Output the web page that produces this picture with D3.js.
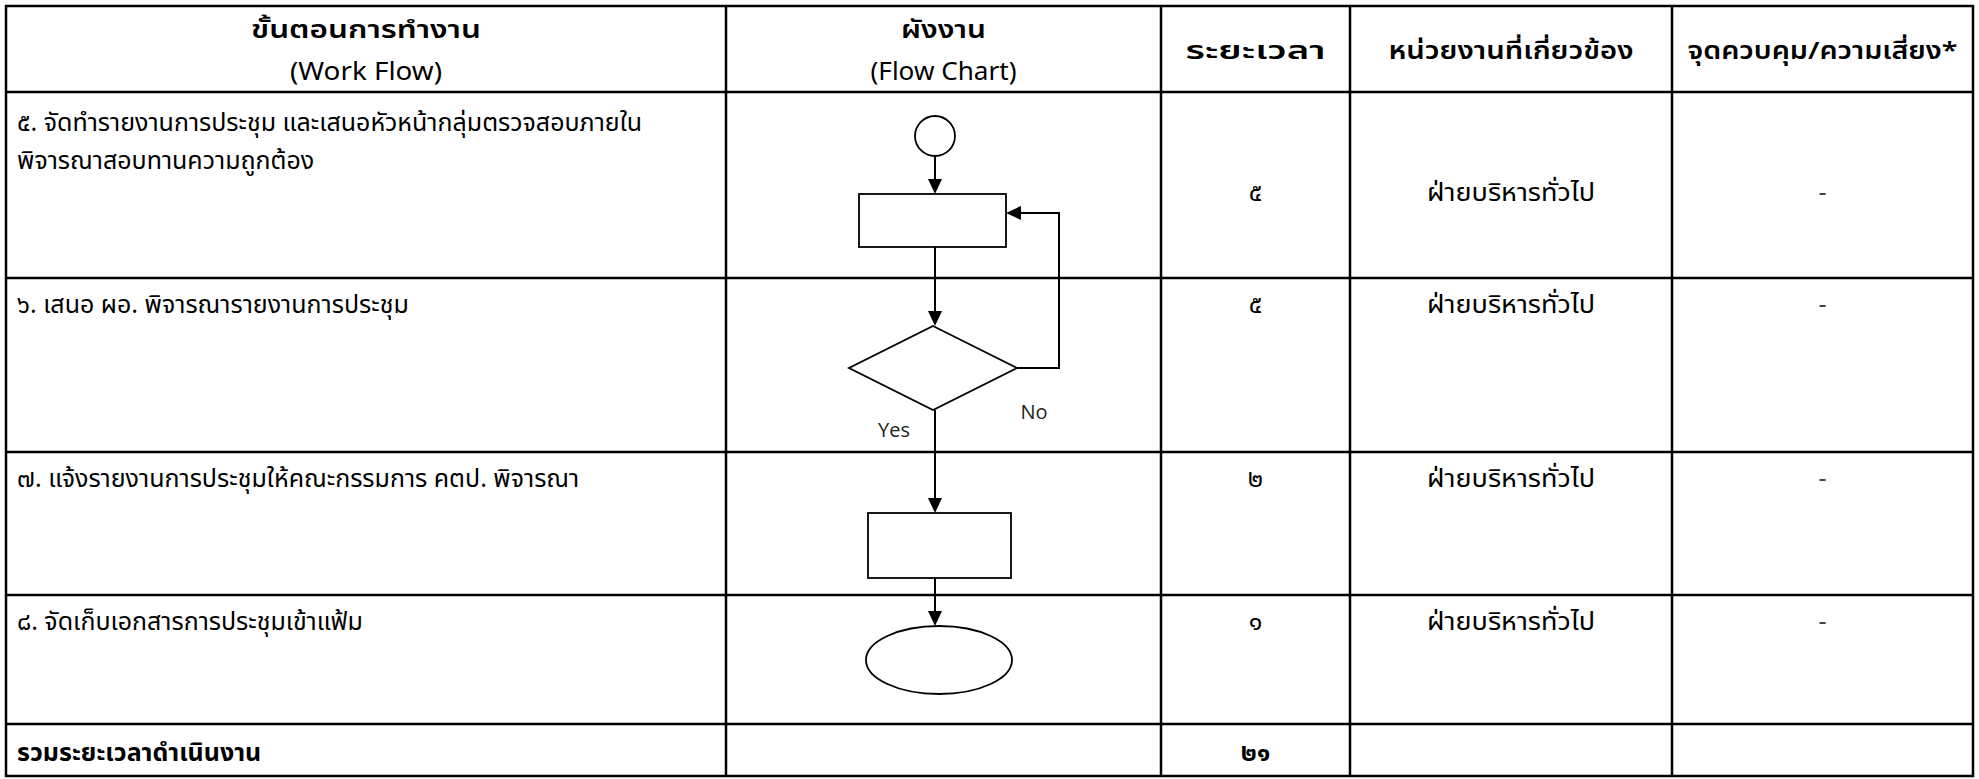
<!DOCTYPE html>
<html><head><meta charset="utf-8">
<script src="https://cdn.jsdelivr.net/npm/d3@7"></script>
<style>body{margin:0;background:#fff}svg{display:block}</style>
</head><body>
<svg id="chart" width="1979" height="779"></svg>
<script>
// ---------------- DATA ----------------
const headerLabels = [
  ["ขั้นตอนการทำงาน", "(Work Flow)"],
  ["ผังงาน", "(Flow Chart)"],
  ["ระยะเวลา"],
  ["หน่วยงานที่เกี่ยวข้อง"],
  ["จุดควบคุม/ความเสี่ยง*"]
];
const stepLabels = [
  ["๕. จัดทำรายงานการประชุม และเสนอหัวหน้ากลุ่มตรวจสอบภายใน", "พิจารณาสอบทานความถูกต้อง"],
  ["๖. เสนอ ผอ. พิจารณารายงานการประชุม"],
  ["๗. แจ้งรายงานการประชุมให้คณะกรรมการ คตป. พิจารณา"],
  ["๘. จัดเก็บเอกสารการประชุมเข้าแฟ้ม"]
];
const durations = ["๕", "๕", "๒", "๑"];
const departments = ["ฝ่ายบริหารทั่วไป", "ฝ่ายบริหารทั่วไป", "ฝ่ายบริหารทั่วไป", "ฝ่ายบริหารทั่วไป"];
const controls = ["-", "-", "-", "-"];
const totalLabel = "รวมระยะเวลาดำเนินงาน";
const totalDuration = "๒๑";
const flowNodes = ["start", "process", "decision", "process", "end"];
const branchLabels = ["Yes", "No"];

// ---------------- LAYOUT ----------------
const W = 1979, H = 779;
const colWidths = [720, 435, 189, 322, 301];
const rowHeights = [86, 186, 174, 143, 129, 52];
const x0 = 6, y0 = 6;
const colEdges = [x0]; colWidths.forEach(w => colEdges.push(colEdges[colEdges.length-1] + w));
const rowEdges = [y0]; rowHeights.forEach(h => rowEdges.push(rowEdges[rowEdges.length-1] + h));
const xCol = d3.scaleOrdinal().domain(d3.range(colEdges.length)).range(colEdges);
const yRow = d3.scaleOrdinal().domain(d3.range(rowEdges.length)).range(rowEdges);
const colCenter = i => (xCol(i) + xCol(i+1)) / 2;
const headerFit = [230, 85, 140, 245, 270];
const subFit = [152, 146];

const thaiFont = "'Noto Sans Thai','Noto Sans Thai UI','Sarabun','TH Sarabun New','Loma','Garuda','Noto Sans',sans-serif";
const svg = d3.select("#chart");
svg.append("rect").attr("width", W).attr("height", H).attr("fill", "#fff");

// grid
const grid = svg.append("g").attr("stroke", "#000").attr("stroke-width", 2.5);
grid.selectAll("line.v").data(colEdges).join("line").attr("class","v")
  .attr("x1", d => d).attr("x2", d => d).attr("y1", yRow(0)-1).attr("y2", yRow(rowEdges.length-1)+1);
grid.selectAll("line.h").data(rowEdges).join("line").attr("class","h")
  .attr("x1", xCol(0)-1).attr("x2", xCol(colEdges.length-1)+1).attr("y1", d => d).attr("y2", d => d);

// header
const hdr = svg.append("g").attr("font-family", thaiFont).attr("font-weight", 600)
  .attr("font-size", 24).attr("text-anchor", "middle").attr("fill", "#000");
headerLabels.forEach((lines, i) => {
  const cx = colCenter(i);
  if (lines.length === 2) {
    hdr.append("text").attr("x", cx).attr("y", yRow(0) + 32)
      .attr("textLength", headerFit[i]).attr("lengthAdjust", "spacingAndGlyphs").text(lines[0]);
    hdr.append("text").attr("x", cx).attr("y", yRow(0) + 74).attr("font-weight", "normal")
      .attr("font-size", 25).attr("textLength", subFit[i]).attr("lengthAdjust", "spacingAndGlyphs").text(lines[1]);
  } else {
    hdr.append("text").attr("x", cx).attr("y", yRow(0) + 53)
      .attr("textLength", headerFit[i]).attr("lengthAdjust", "spacingAndGlyphs").text(lines[0]);
  }
});

// body text
const body = svg.append("g").attr("font-family", thaiFont).attr("font-size", 25).attr("fill", "#000");
stepLabels.forEach((lines, r) => {
  const top = yRow(r+1);
  lines.forEach((t, k) => {
    body.append("text").attr("x", xCol(0) + 11).attr("y", top + (r === 0 ? 39 : 35) + k * 38).text(t);
  });
  const vy = r === 0 ? (yRow(1) + yRow(2)) / 2 + 16 : top + 35;
  body.append("text").attr("x", colCenter(2)).attr("y", vy).attr("text-anchor", "middle").text(durations[r]);
  body.append("text").attr("x", colCenter(3)).attr("y", vy).attr("text-anchor", "middle")
    .attr("textLength", 168).attr("lengthAdjust", "spacingAndGlyphs").text(departments[r]);
  body.append("text").attr("x", colCenter(4)).attr("y", vy).attr("text-anchor", "middle").attr("fill", "#444").text(controls[r]);
});
body.append("text").attr("x", xCol(0) + 11).attr("y", yRow(5) + 37).attr("font-weight", "bold").text(totalLabel);
body.append("text").attr("x", colCenter(2)).attr("y", yRow(5) + 37).attr("font-weight", "bold").attr("text-anchor", "middle").text(totalDuration);

// ---------------- FLOWCHART ----------------
const fx = 935;
const node = {
  start:    {cx: fx, cy: 136, r: 20},
  process1: {x: 859, y: 194, w: 147, h: 53},
  decision: {cx: 933, cy: 368, hw: 84, hh: 42},
  process2: {x: 868, y: 513, w: 143, h: 65},
  end:      {cx: 939, cy: 660, rx: 73, ry: 34}
};
const fc = svg.append("g");
const conn = fc.append("g").attr("stroke", "#000").attr("stroke-width", 2).attr("fill", "none");
const heads = fc.append("g").attr("fill", "#000");
function arrowDown(x, y1, y2) {
  conn.append("line").attr("x1", x).attr("x2", x).attr("y1", y1).attr("y2", y2 - 13);
  heads.append("path").attr("d", d3.line()([[x-7, y2-15], [x+7, y2-15], [x, y2]]));
}
function arrowLeft(xTip, y) {
  heads.append("path").attr("d", d3.line()([[xTip+15, y-7], [xTip+15, y+7], [xTip, y]]));
}
arrowDown(fx, node.start.cy + node.start.r, node.process1.y);
arrowDown(fx, node.process1.y + node.process1.h, node.decision.cy - node.decision.hh);
arrowDown(fx, node.decision.cy + node.decision.hh, node.process2.y);
arrowDown(fx, node.process2.y + node.process2.h, node.end.cy - node.end.ry);
const loopX = 1059, loopY = 213;
conn.append("path").attr("d", d3.line()([
  [node.decision.cx + node.decision.hw, node.decision.cy], [loopX, node.decision.cy],
  [loopX, loopY], [node.process1.x + node.process1.w + 13, loopY]]));
arrowLeft(node.process1.x + node.process1.w, loopY);

const shp = fc.append("g").attr("stroke", "#000").attr("stroke-width", 1.8).attr("fill", "#fff");
shp.append("circle").attr("cx", node.start.cx).attr("cy", node.start.cy).attr("r", node.start.r);
[node.process1, node.process2].forEach(p =>
  shp.append("rect").attr("x", p.x).attr("y", p.y).attr("width", p.w).attr("height", p.h));
const dn = node.decision;
shp.append("path").attr("d", d3.line()([[dn.cx, dn.cy-dn.hh],[dn.cx+dn.hw, dn.cy],[dn.cx, dn.cy+dn.hh],[dn.cx-dn.hw, dn.cy]]) + "Z");
shp.append("ellipse").attr("cx", node.end.cx).attr("cy", node.end.cy).attr("rx", node.end.rx).attr("ry", node.end.ry);

const lbl = fc.append("g").attr("font-family", "'Open Sans',sans-serif").attr("font-size", 20)
  .attr("fill", "#222").attr("text-anchor", "middle");
lbl.append("text").attr("x", 894).attr("y", 437).text(branchLabels[0]);
lbl.append("text").attr("x", 1034).attr("y", 419).text(branchLabels[1]);
</script>
</body></html>
